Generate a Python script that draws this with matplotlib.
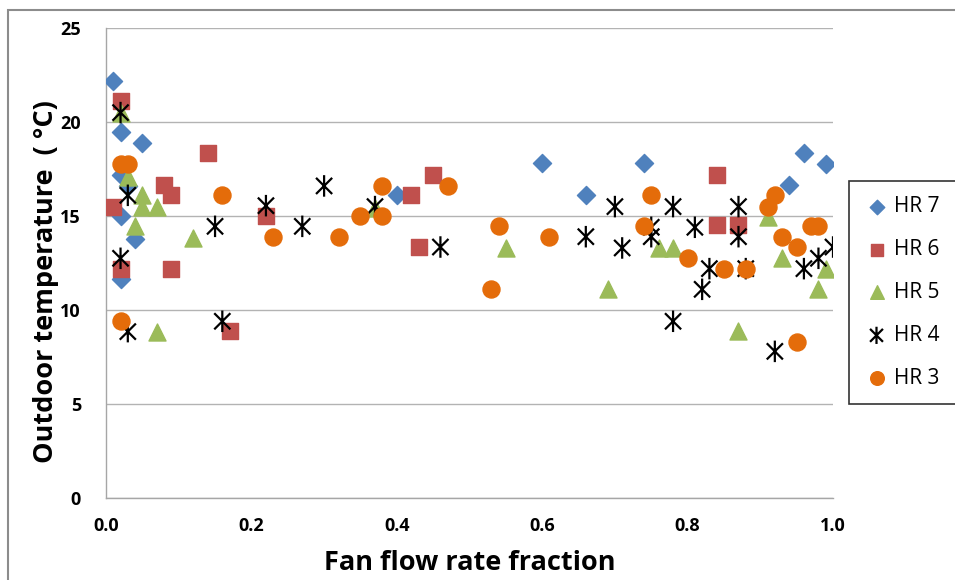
import matplotlib
matplotlib.use('Agg')
import matplotlib.pyplot as plt
from matplotlib.patches import Rectangle
from matplotlib.path import Path

# fan flow rate fraction / outdoor temperature for each hour
hr7_x = [0.01, 0.02, 0.05, 0.02, 0.03, 0.02, 0.04, 0.02, 0.40, 0.60, 0.66, 0.74, 0.94, 0.96, 0.99]
hr7_y = [22.2, 19.45, 18.9, 17.2, 16.6, 15.0, 13.8, 11.65, 16.1, 17.8, 16.1, 17.8, 16.65, 18.35, 17.75]

hr6_x = [0.01, 0.02, 0.02, 0.08, 0.09, 0.09, 0.14, 0.17, 0.22, 0.42, 0.43, 0.45, 0.84, 0.84, 0.87]
hr6_y = [15.5, 21.1, 12.2, 16.65, 16.1, 12.2, 18.35, 8.9, 15.0, 16.1, 13.35, 17.2, 17.2, 14.5, 14.5]

hr5_x = [0.02, 0.03, 0.05, 0.05, 0.07, 0.04, 0.12, 0.07, 0.37, 0.55, 0.69, 0.76, 0.78, 0.87,
         0.91, 0.93, 0.98, 0.99]
hr5_y = [20.5, 17.1, 16.1, 15.5, 15.5, 14.45, 13.85, 8.85, 15.4, 13.3, 11.1, 13.3, 13.3, 8.9,
         14.95, 12.75, 11.1, 12.2]

hr4_x = [0.02, 0.03, 0.02, 0.03, 0.15, 0.16, 0.22, 0.27, 0.30, 0.37, 0.46, 0.66, 0.70, 0.71,
         0.75, 0.75, 0.78, 0.78, 0.81, 0.82, 0.83, 0.87, 0.87, 0.88, 0.92, 0.96, 0.98, 1.0]
hr4_y = [20.5, 16.1, 12.75, 8.85, 14.45, 9.4, 15.55, 14.45, 16.6, 15.5, 13.35, 13.9, 15.5, 13.3,
         14.4, 13.9, 15.5, 9.4, 14.4, 11.1, 12.2, 15.5, 13.9, 12.2, 7.8, 12.2, 12.75, 13.35]

hr3_x = [0.02, 0.03, 0.02, 0.16, 0.23, 0.32, 0.35, 0.38, 0.38, 0.47, 0.53, 0.54, 0.61, 0.74,
         0.75, 0.80, 0.85, 0.88, 0.91, 0.92, 0.93, 0.95, 0.97, 0.98, 0.95]
hr3_y = [17.75, 17.75, 9.4, 16.1, 13.9, 13.9, 15.0, 15.0, 16.6, 16.6, 11.1, 14.45, 13.9, 14.45,
         16.1, 12.75, 12.2, 12.2, 15.5, 16.1, 13.9, 13.35, 14.45, 14.45, 8.3]

plt.rcParams['font.family'] = ['Open Sans', 'DejaVu Sans']

# excel style star: an x with a vertical bar through it
M, L = Path.MOVETO, Path.LINETO
star = Path([(0, -1), (0, 1), (-0.75, -0.75), (0.75, 0.75), (-0.75, 0.75), (0.75, -0.75)],
            [M, L, M, L, M, L])

fig = plt.figure(figsize=(9.55, 5.8), dpi=100)
ax = fig.add_axes([106/955, 82/580, 727/955, 470/580])

ax.scatter(hr7_x, hr7_y, marker='D', s=85, color='#4F81BD', label='HR 7', zorder=3)
ax.scatter(hr6_x, hr6_y, marker='s', s=125, color='#C0504D', label='HR 6', zorder=3)
ax.scatter(hr5_x, hr5_y, marker='^', s=150, color='#9BBB59', label='HR 5', zorder=3)
ax.scatter(hr4_x, hr4_y, marker=star, s=240, facecolors='none', edgecolors='black',
           linewidths=1.6, label='HR 4', zorder=3)
ax.scatter(hr3_x, hr3_y, marker='o', s=150, color='#E46C0A', label='HR 3', zorder=3)

ax.set_xlim(0, 1.0)
ax.set_ylim(0, 25)
ax.set_xticks([0, 0.2, 0.4, 0.6, 0.8, 1.0])
ax.set_xticklabels(['0.0', '0.2', '0.4', '0.6', '0.8', '1.0'])
ax.set_yticks([0, 5, 10, 15, 20, 25])
ax.tick_params(length=0, labelsize=13)
ax.tick_params(axis='x', pad=14)
ax.tick_params(axis='y', pad=18)
for lab in ax.get_xticklabels() + ax.get_yticklabels():
    lab.set_fontweight('bold')

ax.yaxis.grid(True, color='#B3B3B3', linewidth=1)
ax.set_axisbelow(True)
for side in ['top', 'right']:
    ax.spines[side].set_visible(False)
for side in ['left', 'bottom']:
    ax.spines[side].set_color('#A6A6A6')
    ax.spines[side].set_linewidth(1)

ax.set_xlabel('Fan flow rate fraction', fontsize=19.5, fontweight='bold', labelpad=10.5)
ax.set_ylabel('Outdoor temperature  ( °C)', fontsize=19.5, fontweight='bold')
ax.yaxis.set_label_coords(-0.064, 0.46)

leg = fig.legend(loc='upper left', bbox_to_anchor=(849/955, 1 - 187/580, 0.2, 0.01),
                 mode='expand', fontsize=15, frameon=True, fancybox=False,
                 borderpad=0.72, labelspacing=1.05, handletextpad=0.25, handlelength=1.2,
                 borderaxespad=0, markerscale=0.8)
leg.get_frame().set_edgecolor('black')
leg.get_frame().set_linewidth(1.2)

# outer chart border
fig.patches.append(Rectangle((8/955, -0.1), 1.2, 1.1 - 10/580, transform=fig.transFigure,
                             fill=False, edgecolor='#8C8C8C', linewidth=1.5))

fig.savefig('out.png', dpi=100)
